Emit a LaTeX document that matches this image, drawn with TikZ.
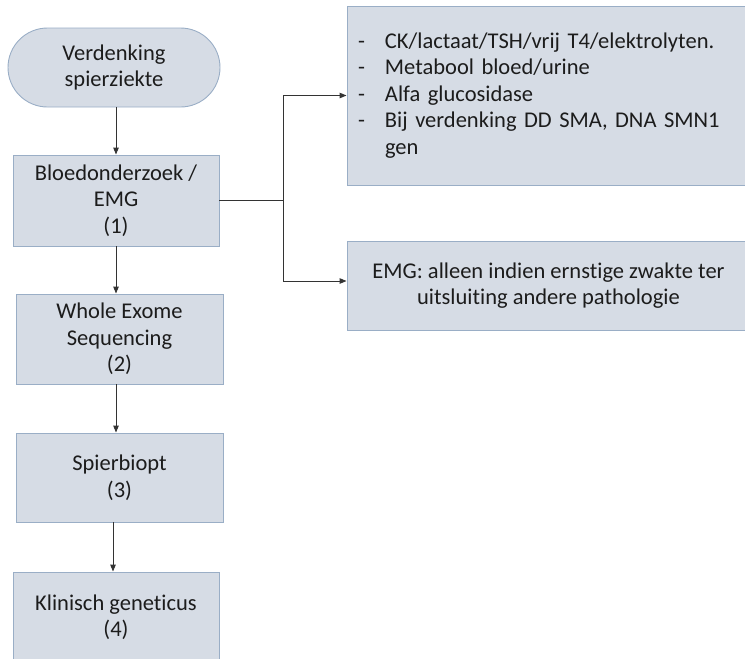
\documentclass[tikz,border=0pt]{standalone}
\usepackage{fontspec}
\setmainfont{Carlito}[Ligatures=NoCommon]
\usetikzlibrary{arrows.meta}
\definecolor{boxfill}{HTML}{D6DCE5}
\definecolor{boxline}{HTML}{9AAEC6}
\definecolor{txt}{HTML}{1C1C1C}
\definecolor{conn}{HTML}{333333}
\begin{document}
\begin{tikzpicture}[x=1pt,y=-1pt,
  box/.style={draw=boxline,fill=boxfill,line width=0.9pt,inner sep=0pt,align=center,
    font=\fontsize{22.5}{26.5}\selectfont,text=txt},
  arr/.style={draw=conn,-{Triangle[length=7pt,width=5.5pt]},line width=1pt},
  ln/.style={draw=conn,line width=1pt}]
\useasboundingbox (0,0) rectangle (745,659);
\clip (0,0) rectangle (745,659);
\node[box,rounded corners=39.5pt,minimum width=212pt,minimum height=79pt] (term) at (114,67.5) {Verdenking\\spierziekte};
\node[box,minimum width=206pt,minimum height=91pt] (b1) at (116,200.5) {Bloedonderzoek /\\EMG\\(1)};
\node[box,minimum width=207pt,minimum height=90pt] (b2) at (119.5,339) {Whole Exome\\Sequencing\\(2)};
\node[box,minimum width=207pt,minimum height=89pt] (b3) at (119.5,477.5) {Spierbiopt\\(3)};
\node[box,minimum width=206pt,minimum height=90pt] (b4) at (116,617) {Klinisch geneticus\\(4)};
\node[box,align=left,text width=381pt,inner xsep=11pt,inner ysep=0pt,minimum height=179pt] (bA) at (548.5,95.5)
  {\makebox[27pt][l]{-}CK/lactaat/TSH/vrij T4/elektrolyten.\\
   \makebox[27pt][l]{-}Metabool bloed/urine\\
   \makebox[27pt][l]{-}Alfa glucosidase\\
   \makebox[27pt][l]{-}Bij verdenking DD SMA, DNA SMN1\\
   \hspace*{27pt}gen};
\node[box,minimum width=403pt,minimum height=89pt] (bB) at (548.5,285.5)
  {EMG: alleen indien ernstige zwakte ter\\uitsluiting andere pathologie};
\coordinate (j) at (283,200.5);
\draw[arr] (b1.north |- term.south) -- (b1.north);
\draw[arr] (b1.south) -- (b1.south |- b2.north);
\draw[arr] (b1.south |- b2.south) -- (b1.south |- b3.north);
\draw[arr] ([xshift=-3pt]b4.north |- b3.south) -- ([xshift=-3pt]b4.north);
\draw[ln] (b1.east) -- (j);
\draw[arr] (j) |- (bA.west);
\draw[arr] (j) |- ([yshift=4.5pt]bB.west);
\end{tikzpicture}
\end{document}
